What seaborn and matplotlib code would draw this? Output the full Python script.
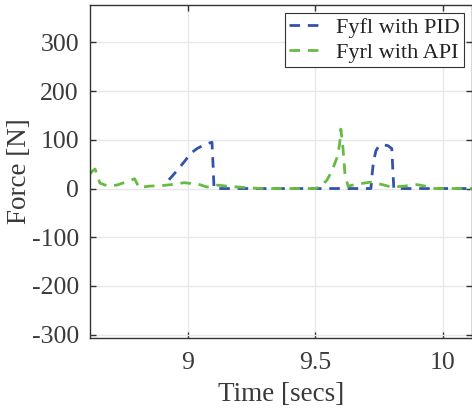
import numpy as np
import pandas as pd
import seaborn as sns
import matplotlib.pyplot as plt

# Fyfl with PID (blue)
t_pid = [8.925, 8.957, 8.985, 9.010, 9.035, 9.060, 9.080, 9.094, 9.098, 9.102,
         9.300, 9.500, 9.718, 9.722, 9.728, 9.738, 9.750, 9.765, 9.785, 9.800,
         9.804, 9.808, 10.0, 10.12]
f_pid = [18, 37, 55, 72, 82, 89, 93, 95, 50, 0,
         0, 0, 0, 25, 55, 78, 88, 90, 88, 82,
         40, 0, 0, 0]

# Fyrl with API (green)
t_api = [8.615, 8.625, 8.635, 8.654, 8.686, 8.720, 8.760, 8.790, 8.800, 8.806,
         8.850, 8.898, 8.950, 8.985, 9.000, 9.040, 9.075, 9.115, 9.150, 9.200,
         9.250, 9.300, 9.500, 9.520, 9.545, 9.566, 9.585, 9.595, 9.600, 9.608,
         9.616, 9.628, 9.663, 9.715, 9.740, 9.800, 9.850, 9.900, 9.930, 9.970,
         10.12]
f_api = [30, 36, 40, 11, 5, 7, 14, 20, 10, 2,
         5, 6, 9, 12, 11, 9, 3, 7, 5, 3,
         1, 0, 0, 4, 17, 37, 64, 90, 122, 85,
         31, 5, 9, 13, 11, 3, 5, 8, 5, 0,
         0]

xticks = [9, 9.5, 10]
xticklabels = ['9', '9.5', '10']
yticks = [-300, -200, -100, 0, 100, 200, 300]

sns.set_style('whitegrid')
plt.rcParams['font.family'] = ['Liberation Serif', 'DejaVu Serif']
plt.rcParams['axes.unicode_minus'] = False
txt = '#3a3a3a'

fig = plt.figure(figsize=(4.72, 4.09), dpi=100)
ax = fig.add_axes([0.1907, 0.1736, 0.8093, 0.8142])

blue = '#3253a6'
green = '#67bb42'
sns.lineplot(x=t_pid, y=f_pid, ax=ax, color=blue, linewidth=2, estimator=None,
             sort=False, linestyle=(0, (3.8, 2.8)), label='Fyfl with PID')
sns.lineplot(x=t_api, y=f_api, ax=ax, color=green, linewidth=2, estimator=None,
             sort=False, linestyle=(0, (3.8, 2.8)), label='Fyrl with API')

ax.set_xlim(8.615, 10.115)
ax.set_ylim(-307, 377)
ax.set_xticks(xticks)
ax.set_xticklabels(xticklabels)
ax.set_yticks(yticks)
ax.grid(True, color='#e8e8e8', linewidth=1)
for s in ax.spines.values():
    s.set_visible(True)
    s.set_color('#333333')
    s.set_linewidth(1)
ax.tick_params(direction='in', length=4, width=1, colors='#333333',
               labelcolor=txt, labelsize=18.5, top=True, right=True,
               left=True, bottom=True)
ax.tick_params(axis='x', pad=10)
ax.tick_params(axis='y', pad=8)
ax.set_xlabel('Time [secs]', fontsize=19.5, color=txt, labelpad=6)
ax.set_ylabel('Force [N]', fontsize=19.5, color=txt, labelpad=0)

leg = ax.legend(loc='upper right', fontsize=16, frameon=True, fancybox=False,
                edgecolor='#333333', framealpha=1, handlelength=1.6,
                borderpad=0.2, labelspacing=0.2, handletextpad=0.5,
                borderaxespad=0.35)
leg.get_frame().set_linewidth(0.8)
for t in leg.get_texts():
    t.set_color('#222222')

fig.savefig('out.png', dpi=100)
